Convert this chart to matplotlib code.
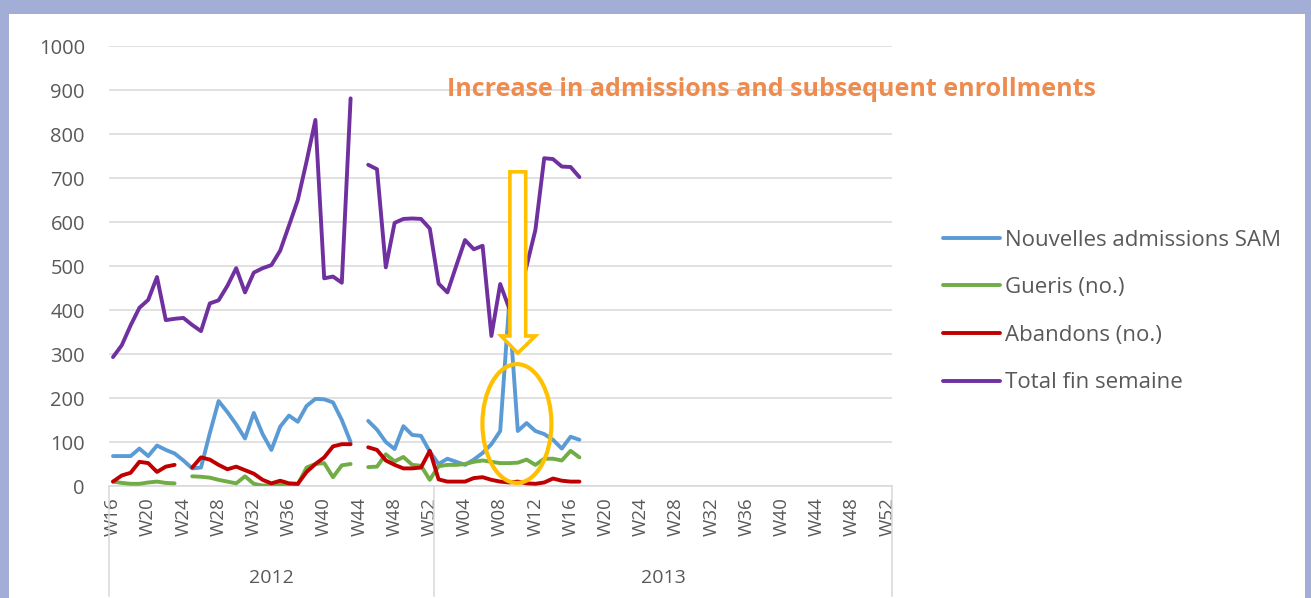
import numpy as np
import matplotlib
matplotlib.use('Agg')
import matplotlib.pyplot as plt
from matplotlib.patches import Ellipse, Polygon, Rectangle
from matplotlib.lines import Line2D

# ---------------- data ----------------
years = ['2012', '2013']
weeks_2012 = ['W%02d' % w for w in range(16, 53)]
weeks_2013 = ['W%02d' % w for w in range(1, 53)]
categories = weeks_2012 + weeks_2013

N = None
nouvelles = [68, 68, 68, 85, 68, 92, 82, 74, 58, 40, 42, 120, 193, 168, 140, 108, 166, 118, 82, 135,
             160, 146, 182, 198, 197, 190, 150, 100, N, 148, 128, 100, 84, 136, 116, 114, 78,
             50, 62, 55, 48, 60, 75, 95, 125, 410, 125, 143, 125, 118, 105, 85, 112, 105]
gueris = [10, 7, 5, 5, 8, 10, 7, 6, N, 22, 21, 19, 14, 10, 6, 22, 5, 1, 2, 3,
          2, 4, 42, 50, 52, 20, 47, 50, N, 43, 44, 72, 56, 66, 48, 46, 14,
          45, 48, 48, 50, 55, 58, 55, 52, 52, 53, 60, 48, 62, 62, 58, 80, 65]
abandons = [10, 24, 30, 55, 52, 32, 44, 48, N, 42, 65, 60, 48, 38, 44, 36, 28, 14, 6, 12,
            6, 5, 32, 50, 65, 90, 95, 95, N, 88, 82, 58, 48, 40, 40, 42, 80,
            15, 10, 10, 10, 18, 20, 14, 10, 8, 10, 6, 5, 8, 17, 12, 10, 10]
total = [293, 320, 365, 405, 423, 475, 377, 380, 382, 366, 352, 415, 422, 455, 495, 440, 485, 495, 502, 535,
         592, 650, 738, 832, 472, 476, 462, 881, N, 730, 720, 497, 598, 607, 608, 607, 585,
         460, 440, 500, 559, 538, 546, 341, 459, 405, 425, 500, 582, 745, 743, 726, 725, 702]

series_names = ['Nouvelles admissions SAM', 'Gueris (no.)', 'Abandons (no.)', 'Total fin semaine']
series_colors = ['#5B9BD5', '#70AD47', '#C00000', '#7030A0']
title_text = 'Increase in admissions and subsequent enrollments'


def pad(vals):
    arr = np.full(len(categories), np.nan)
    for i, v in enumerate(vals):
        if v is not None:
            arr[i] = v
    return arr


# ---------------- figure ----------------
W, H = 1311, 598
fig = plt.figure(figsize=(W / 100, H / 100), dpi=100)
fig.patch.set_facecolor('#A3AED6')
fig.add_artist(Rectangle((9 / W, 0), (1305 - 9) / W, (H - 14) / H, transform=fig.transFigure,
                         facecolor='white', edgecolor='none', zorder=0))

FONT = 'Open Sans'
GREY = '#595959'

ax = fig.add_axes([108.6 / W, 1 - 486 / H, 783.2 / W, 440 / H])
ax.set_facecolor('none')
x = np.arange(len(categories))
for vals, name, col in zip([nouvelles, gueris, abandons, total], series_names, series_colors):
    ax.plot(x, pad(vals), color=col, lw=2.8, label=name, solid_joinstyle='round',
            solid_capstyle='round', zorder=3)

ax.set_xlim(-0.5, len(categories) - 0.5)
ax.set_ylim(0, 1000)
ax.set_yticks(range(0, 1001, 100))
ax.grid(axis='y', color='#D9D9D9', lw=1.1, zorder=0)
ax.set_axisbelow(True)
for s in ['top', 'right', 'left']:
    ax.spines[s].set_visible(False)
ax.spines['bottom'].set_color('#D9D9D9')
ax.spines['bottom'].set_linewidth(1.1)

ticks = list(range(0, len(categories), 4))
ax.set_xticks(ticks)
ax.set_xticklabels([categories[i] for i in ticks], rotation=90, fontfamily=FONT,
                   fontsize=13.5, color=GREY)
ax.tick_params(axis='x', length=0, pad=8)
ax.tick_params(axis='y', length=0, pad=17, labelsize=14.5, labelcolor=GREY)
for lab in ax.get_yticklabels():
    lab.set_fontfamily(FONT)

# year group labels and separators
trans = ax.get_xaxis_transform()
n12 = len(weeks_2012)
for xs in [-0.5, n12 - 0.5, len(categories) - 0.5]:
    ax.add_line(Line2D([xs, xs], [0, -(596 - 486) / 440], transform=trans, color='#D9D9D9',
                       lw=1.1, clip_on=False))
ax.text((n12 - 1) / 2, -(578 - 486) / 440, years[0], transform=trans, ha='center', va='center',
        fontsize=14, color=GREY, fontfamily=FONT)
ax.text((n12 + len(categories) - 1) / 2, -(578 - 486) / 440, years[1], transform=trans,
        ha='center', va='center', fontsize=14, color=GREY, fontfamily=FONT)

# annotations: ellipse and hollow down arrow
ax.add_patch(Ellipse((45.9, 142), 7.84, 270, fill=False, ec='#FFC000', lw=3, zorder=5,
                     clip_on=False))
arrow = [(45.1, 714), (46.9, 714), (46.9, 341), (48.0, 341), (46.0, 302), (44.1, 341), (45.1, 341)]
ax.add_patch(Polygon(arrow, closed=True, fc='white', ec='#FFC000', lw=2.6, zorder=6,
                     clip_on=False, joinstyle='miter'))

fig.text(447 / W, 1 - 90 / H, title_text, ha='left', va='center', fontsize=18,
         fontweight='bold', color='#EE8B4E', fontfamily=FONT)

leg = fig.legend(loc='center left', bbox_to_anchor=(943 / W, 1 - 311.5 / H), frameon=False,
                 prop={'family': FONT, 'size': 16}, handlelength=2.57, handletextpad=0.2,
                 labelspacing=1.2, borderpad=0, borderaxespad=0)
for t in leg.get_texts():
    t.set_color(GREY)

fig.savefig('out.png', dpi=100)
